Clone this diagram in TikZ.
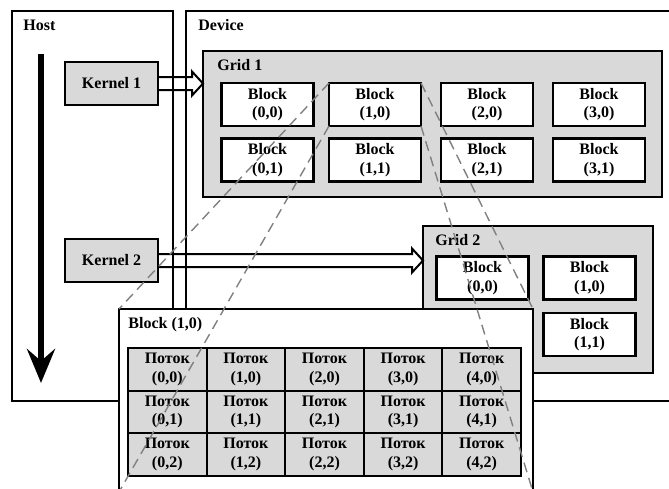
\documentclass[tikz,border=0pt]{standalone}
\usepackage{fontspec}
\setmainfont{Liberation Serif}
\usetikzlibrary{arrows.meta,positioning,calc}
\definecolor{Shade}{HTML}{D9D9D9}
\definecolor{Dash}{HTML}{808080}
\tikzset{
  frame/.style={draw,line width=1.1pt,inner sep=0pt,outer sep=0pt},
  gridbox/.style={frame,fill=Shade},
  kernel/.style={frame,fill=Shade,minimum width=46.5pt,minimum height=21.5pt},
  blockbox/.style={draw,fill=white,line width=1.3pt,align=center,inner sep=0pt,
    outer sep=0pt,minimum width=46pt,minimum height=21.5pt},
  cell/.style={draw,fill=Shade,line width=1pt,align=center,inner sep=0pt,
    outer sep=0pt,minimum width=39.3pt,minimum height=21.33pt},
  tag/.style={anchor=west,inner sep=0pt},
  zoomline/.style={draw=Dash,line width=0.7pt,dash pattern=on 5pt off 3pt},
  fatarrow/.style={draw,line width=1pt,line join=miter}
}
% hollow launch arrow from a kernel to its grid
\newcommand{\launch}[2]{%
  \draw[fatarrow] let \p1=(#1.east), \p2=(#2.west) in
    (\x1,\y1+3.25pt) -- (\x2-5.5pt,\y1+3.25pt) -- (\x2-5.5pt,\y1+6pt)
    -- (\x2,\y1) -- (\x2-5.5pt,\y1-6pt) -- (\x2-5.5pt,\y1-3.25pt)
    -- (\x1,\y1-3.25pt);}

\begin{document}
\begin{tikzpicture}[x=0.5pt,y=-0.5pt,
    every node/.append style={font=\fontsize{8}{9.3}\selectfont\bfseries}]
  \useasboundingbox (0,0) rectangle (669,488);
  \clip (0,0) rectangle (669,488);

  % host and device
  \node[frame,minimum width=80.5pt,minimum height=195pt] (host) at (92.5,206) {};
  \node[frame,minimum width=252pt,minimum height=195pt] (device) at (438,206) {};
  \node[tag] at ($(host.north west)+(11,14)$) {Host};
  \node[tag] at ($(device.north west)+(12,14)$) {Device};

  \coordinate (flowtop) at (41,54);
  \coordinate (flowend) at (41,383);
  \draw[line width=3pt,-{Stealth[length=17pt,width=14pt,inset=6pt]}] (flowtop) -- (flowend);

  \node[kernel] (k1) at (111.5,83.5) {Kernel 1};
  \node[kernel] (k2) at (111.5,260.5) {Kernel 2};

  % grid 1
  \node[gridbox,minimum width=229.5pt,minimum height=73pt] (grid1) at (432.5,124) {};
  \node[tag] at ($(grid1.north west)+(14,14)$) {Grid 1};
  \foreach \c/\x in {0/267.5,1/375,2/487,3/599}
    \foreach \r/\y in {0/104.5,1/160}
      \node[blockbox] (b\c\r) at (\x,\y) {Block\\(\c,\r)};

  % grid 2
  \node[gridbox,minimum width=115pt,minimum height=73.5pt] (grid2) at (538,299.5) {};
  \node[tag] at ($(grid2.north west)+(12,14)$) {Grid 2};
  \node[blockbox] (g2b00) at (482.5,278) {Block\\(0,0)};
  \node[blockbox] (g2b10) at (589.5,278) {Block\\(1,0)};
  \node[blockbox] (g2b11) at (589.5,334.5) {Block\\(1,1)};

  \launch{k1}{grid1}
  \launch{k2}{grid2}

  % block (1,0) in detail
  \node[frame,fill=white,minimum width=207pt,minimum height=91.5pt] (blk) at (326,400.5) {};
  \node[tag] at ($(blk.north west)+(9,16)$) {Block (1,0)};
  \foreach \c in {0,...,4}
    \foreach \r in {0,1,2}
      \node[cell] (t\c\r) at ({167.3+78.6*\c},{369.3+42.67*\r}) {Поток\\(\c,\r)};

  \draw[zoomline] (b10.north west) -- (blk.north west);
  \draw[zoomline] (b10.south west) -- (blk.south west);
  \draw[zoomline] (b10.north east) -- (blk.north east);
  \draw[zoomline] (b10.south east) -- (blk.south east);
\end{tikzpicture}
\end{document}
